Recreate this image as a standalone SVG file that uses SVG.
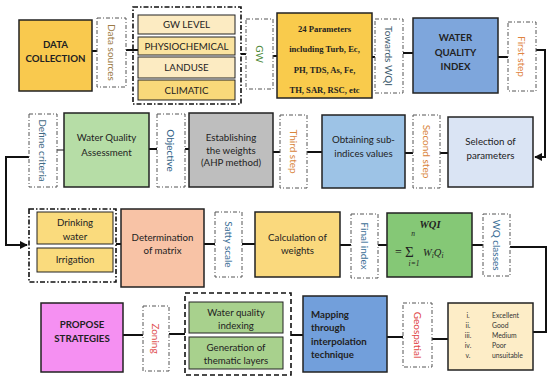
<svg xmlns="http://www.w3.org/2000/svg" width="550" height="381" viewBox="0 0 550 381">
<defs>
<style>
.box{stroke:#222;stroke-width:1.5}
.lbl{fill:#fff;stroke:#555;stroke-width:1;stroke-dasharray:4 2 1 2}
.grp{fill:none;stroke:#111;stroke-width:1.6;stroke-dasharray:5 2 1.5 2}
.grp2{fill:none;stroke:#111;stroke-width:1.6;stroke-dasharray:5 3}
.t{font-family:Lato,"Liberation Sans",sans-serif;font-size:9.7px;fill:#222;text-anchor:middle}
.b{font-weight:bold}
.r{font-family:Lato,"Liberation Sans",sans-serif;font-size:10px;text-anchor:middle;dominant-baseline:central}
.s{font-family:"Liberation Serif","Times New Roman",serif;font-weight:bold;font-size:8.6px;fill:#222;text-anchor:middle}
.m{font-family:"Liberation Serif","Times New Roman",serif;font-style:italic;font-size:10.5px;fill:#222}
.c{font-family:Lato,"Liberation Sans",sans-serif;font-size:6.8px;fill:#333}
.ln{fill:none;stroke:#111;stroke-width:2}
</style>
<marker id="ah" viewBox="0 0 10 10" refX="9" refY="5" markerWidth="4" markerHeight="4" orient="auto"><path d="M0,0L10,5L0,10z" fill="#111"/></marker>
</defs>
<rect width="550" height="381" fill="#fff"/>

<g id="connectors">
<path class="ln" d="M92,51H97"/>
<path class="ln" d="M126,50H138"/>
<path class="ln" d="M241,54H246"/>
<path class="ln" d="M273,56H277"/>
<path class="ln" d="M372,57H375"/>
<path class="ln" d="M403,53H413"/>
<path class="ln" d="M498,57H508"/>
<path class="ln" d="M536,50H545V157H535" marker-end="url(#ah)"/>
<path class="ln" d="M448,153H440"/>
<path class="ln" d="M413,153H405"/>
<path class="ln" d="M322,152H307"/>
<path class="ln" d="M280,152H273"/>
<path class="ln" d="M189,149H185"/>
<path class="ln" d="M157,149H149"/>
<path class="ln" style="stroke-width:1" d="M64,150H57"/>
<path class="ln" d="M29,157H6V245H27" marker-end="url(#ah)"/>
<path class="ln" d="M116,244H121"/>
<path class="ln" d="M204,244H215"/>
<path class="ln" d="M242,244H255"/>
<path class="ln" d="M340,245H351"/>
<path class="ln" d="M378,245H387"/>
<path class="ln" d="M472,245H483"/>
<path class="ln" d="M510,247H546V332H533"/>
<path class="ln" d="M448,339H432"/>
<path class="ln" d="M403,337H387"/>
<path class="ln" d="M303,335H291"/>
<path class="ln" d="M185,334H169"/>
<path class="ln" d="M143,335H123"/>
</g>

<g id="data-collection">
<rect class="box" x="19" y="20" width="73" height="71" fill="#F9C94E"/>
<text class="t b" x="55.5" y="48">DATA</text>
<text class="t b" x="55.5" y="62">COLLECTION</text>
</g>
<g id="data-sources">
<rect class="lbl" x="97" y="18" width="29" height="69"/>
<text class="r" fill="#9A7A45" transform="rotate(90 111.5 52.5)" x="111.5" y="52.5">Data sources</text>
</g>
<g id="sources-group">
<rect class="grp" x="133" y="7" width="108" height="97"/>
<rect class="box" style="stroke-width:1" x="138" y="15" width="97" height="19" fill="#FCEBC2"/>
<text class="t" x="186.5" y="28">GW LEVEL</text>
<rect class="box" style="stroke-width:1" x="138" y="37" width="97" height="18" fill="#FBE4A0"/>
<text class="t" x="186.5" y="49.5">PHYSIOCHEMICAL</text>
<rect class="box" style="stroke-width:1" x="138" y="57" width="97" height="21" fill="#FCEBC2"/>
<text class="t" x="186.5" y="71">LANDUSE</text>
<rect class="box" style="stroke-width:1" x="138" y="80" width="97" height="20" fill="#F9D97A"/>
<text class="t" x="186.5" y="93.5">CLIMATIC</text>
</g>
<g id="gw">
<rect class="lbl" x="246" y="19" width="27" height="70"/>
<text class="r" fill="#4E8A3A" transform="rotate(90 259.5 54)" x="259.5" y="54">GW</text>
</g>
<g id="parameters">
<rect class="box" x="277" y="13" width="95" height="85" fill="#F9CB4C"/>
<text class="s" x="324.5" y="32">24 Parameters</text>
<text class="s" x="324.5" y="52">including Turb, Ec,</text>
<text class="s" x="324.5" y="73">PH, TDS, As, Fe,</text>
<text class="s" x="324.5" y="93">TH, SAR, RSC, etc</text>
</g>
<g id="towards-wqi">
<rect class="lbl" x="375" y="19" width="28" height="74"/>
<text class="r" fill="#3E5B6E" transform="rotate(90 389 56)" x="389" y="56">Towards WQI</text>
</g>
<g id="wqi">
<rect class="box" x="413" y="18" width="85" height="75" fill="#7EA6DC"/>
<text class="t b" x="455.5" y="41">WATER</text>
<text class="t b" x="455.5" y="56">QUALITY</text>
<text class="t b" x="455.5" y="70">INDEX</text>
</g>
<g id="first-step">
<rect class="lbl" x="508" y="22" width="28" height="69"/>
<text class="r" fill="#E0843F" transform="rotate(90 522 56.5)" x="522" y="56.5">First step</text>
</g>

<g id="selection">
<rect class="box" x="448" y="117" width="85" height="70" fill="#DAE4F4"/>
<text class="t" x="490.5" y="145">Selection of</text>
<text class="t" x="490.5" y="159">parameters</text>
</g>
<g id="second-step">
<rect class="lbl" x="413" y="115" width="27" height="73"/>
<text class="r" fill="#D9853C" transform="rotate(90 426.5 151.5)" x="426.5" y="151.5">Second step</text>
</g>
<g id="obtaining">
<rect class="box" x="322" y="115" width="83" height="73" fill="#9DC3E6"/>
<text class="t" x="363.5" y="143">Obtaining sub-</text>
<text class="t" x="363.5" y="157">indices values</text>
</g>
<g id="third-step">
<rect class="lbl" x="280" y="115" width="27" height="73"/>
<text class="r" fill="#D9853C" transform="rotate(90 293.5 151.5)" x="293.5" y="151.5">Third step</text>
</g>
<g id="establishing">
<rect class="box" x="189" y="113" width="84" height="74" fill="#BEBEBE"/>
<text class="t" x="231" y="141">Establishing</text>
<text class="t" x="231" y="154">the weights</text>
<text class="t" x="231" y="166">(AHP method)</text>
</g>
<g id="objective">
<rect class="lbl" x="157" y="114" width="28" height="73"/>
<text class="r" fill="#2F5F86" transform="rotate(90 171 150.5)" x="171" y="150.5">Objective</text>
</g>
<g id="wqa">
<rect class="box" x="64" y="113" width="85" height="74" fill="#B6DDA6"/>
<text class="t" x="106.5" y="141">Water Quality</text>
<text class="t" x="106.5" y="156">Assessment</text>
</g>
<g id="define-criteria">
<rect class="lbl" x="29" y="114" width="28" height="73"/>
<text class="r" fill="#3F6A85" transform="rotate(90 43 150.5)" x="43" y="150.5">Define criteria</text>
</g>

<g id="uses-group">
<rect class="grp" x="29" y="209" width="87" height="73"/>
<rect class="box" style="stroke-width:1" x="37" y="212" width="76" height="32" fill="#FADB7D"/>
<text class="t" x="75" y="226">Drinking</text>
<text class="t" x="75" y="240">water</text>
<rect class="box" style="stroke-width:1" x="37" y="248" width="76" height="24" fill="#FADB7D"/>
<text class="t" x="75" y="263">Irrigation</text>
</g>
<g id="determination">
<rect class="box" x="121" y="209" width="83" height="78" fill="#F8C3A6"/>
<text class="t" x="162.5" y="241">Determination</text>
<text class="t" x="162.5" y="254">of matrix</text>
</g>
<g id="satty-scale">
<rect class="lbl" x="215" y="212" width="27" height="65"/>
<text class="r" fill="#3B6E96" transform="rotate(90 228.5 244.5)" x="228.5" y="244.5">Satty scale</text>
</g>
<g id="calculation">
<rect class="box" x="255" y="212" width="85" height="65" fill="#FAD97D"/>
<text class="t" x="297.5" y="241">Calculation of</text>
<text class="t" x="297.5" y="254">weights</text>
</g>
<g id="final-index">
<rect class="lbl" x="351" y="214" width="27" height="64"/>
<text class="r" fill="#3B6E96" transform="rotate(90 364.5 246)" x="364.5" y="246">Final index</text>
</g>
<g id="formula">
<rect class="box" x="387" y="213" width="85" height="64" fill="#85C876"/>
<text class="m" style="font-weight:bold" x="430" y="228" text-anchor="middle">WQI</text>
<text class="m" style="font-size:7.5px" x="413" y="236" text-anchor="middle">n</text>
<text class="m" style="font-style:normal;font-size:12px" x="395" y="256">=</text>
<text class="m" style="font-style:normal;font-size:15px" x="405" y="257">Σ</text>
<text class="m" x="423" y="256">W<tspan style="font-size:7.5px" dy="2">i</tspan><tspan dy="-2">Q</tspan><tspan style="font-size:7.5px" dy="2">i</tspan></text>
<text class="m" style="font-size:7.5px" x="414" y="266" text-anchor="middle">i=1</text>
</g>
<g id="wq-classes">
<rect class="lbl" x="483" y="214" width="27" height="62"/>
<text class="r" fill="#3B6E96" transform="rotate(90 496.5 245)" x="496.5" y="245">WQ classes</text>
</g>

<g id="classes">
<rect class="box" x="448" y="303" width="85" height="67" fill="#FDEDC7"/>
<text class="c" x="468" y="318" text-anchor="middle">i.</text>
<text class="c" x="468" y="328" text-anchor="middle">ii.</text>
<text class="c" x="468" y="338" text-anchor="middle">iii.</text>
<text class="c" x="468" y="348" text-anchor="middle">iv.</text>
<text class="c" x="468" y="358" text-anchor="middle">v.</text>
<text class="c" x="492" y="318">Excellent</text>
<text class="c" x="492" y="328">Good</text>
<text class="c" x="492" y="338">Medium</text>
<text class="c" x="492" y="348">Poor</text>
<text class="c" x="492" y="358">unsuitable</text>
</g>
<g id="geospatial">
<rect class="lbl" x="403" y="303" width="29" height="64"/>
<text class="r" fill="#E04545" transform="rotate(90 417.5 335)" x="417.5" y="335">Geospatial</text>
</g>
<g id="mapping">
<rect class="box" x="303" y="296" width="84" height="76" fill="#729FDB"/>
<text class="t b" style="text-anchor:start" x="311" y="318">Mapping</text>
<text class="t b" style="text-anchor:start" x="311" y="331">through</text>
<text class="t b" style="text-anchor:start" x="311" y="345">interpolation</text>
<text class="t b" style="text-anchor:start" x="311" y="358">technique</text>
</g>
<g id="layers-group">
<rect class="grp2" x="185" y="293" width="106" height="82"/>
<rect class="box" style="stroke-width:1" x="189" y="302" width="94" height="31" fill="#A8D18D"/>
<text class="t" x="236" y="316">Water quality</text>
<text class="t" x="236" y="329">indexing</text>
<rect class="box" style="stroke-width:1" x="189" y="337" width="94" height="32" fill="#A8D18D"/>
<text class="t" x="236" y="351">Generation of</text>
<text class="t" x="236" y="364">thematic layers</text>
</g>
<g id="zoning">
<rect class="lbl" x="143" y="306" width="26" height="65"/>
<text class="r" fill="#E05050" transform="rotate(90 156 338.5)" x="156" y="338.5">Zoning</text>
</g>
<g id="propose">
<rect class="box" x="41" y="303" width="82" height="69" fill="#F590F2"/>
<text class="t b" x="82" y="328">PROPOSE</text>
<text class="t b" x="82" y="342">STRATEGIES</text>
</g>
</svg>
